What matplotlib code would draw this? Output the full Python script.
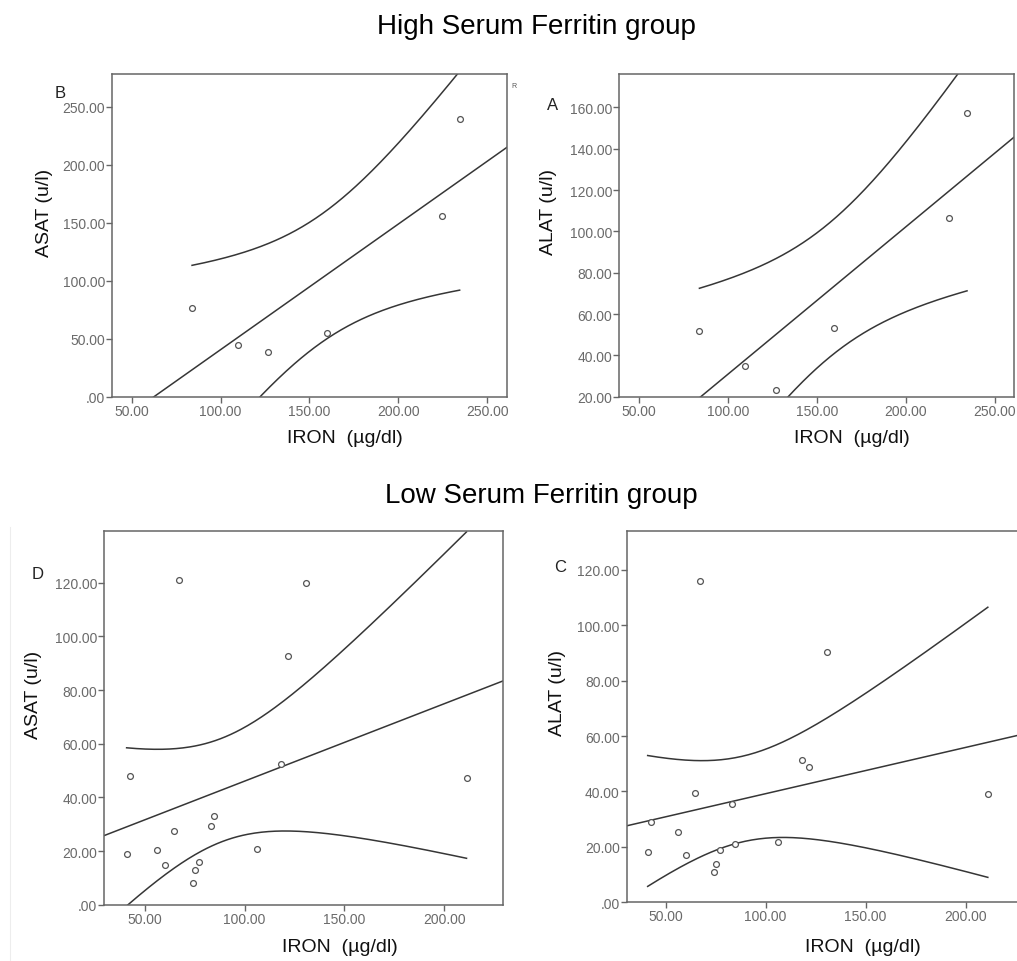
import numpy as np
import matplotlib
matplotlib.use("Agg")
import matplotlib.pyplot as plt
from matplotlib.ticker import FuncFormatter

plt.rcParams['font.family'] = ['Liberation Sans', 'DejaVu Sans']

# High serum ferritin group
iron_high = [84.0, 109.7, 126.8, 159.7, 224.4, 234.4]
asat_high = [76.5, 44.6, 38.8, 55.2, 156.0, 239.0]
alat_high = [51.9, 35.0, 23.2, 53.1, 106.6, 157.3]

# Low serum ferritin group
iron_low = [41.0, 42.7, 56.3, 60.0, 64.8, 67.0, 74.0, 75.0, 77.0, 83.3,
            84.8, 106.4, 118.4, 121.8, 130.7, 211.1]
asat_low = [19.0, 48.0, 20.4, 14.9, 27.5, 121.0, 8.0, 12.9, 16.0, 29.3,
            33.1, 20.8, 52.5, 92.6, 120.0, 47.3]
alat_low = [18.0, 29.0, 25.5, 17.0, 39.3, 115.8, 10.9, 13.9, 19.0, 35.4,
            21.0, 21.9, 51.3, 48.9, 90.2, 39.2]

# two-sided 95% t critical values by degrees of freedom
T_CRIT = {4: 2.776, 14: 2.145}

LINE = '#363636'
SPINE = '#666666'
TICK_TXT = '#6a6a6a'


def spss_fmt(v, pos):
    s = "%.2f" % v
    return s[1:] if s.startswith("0.") else s


def scatter_fit(ax, x, y, xlim, ylim, xticks, yticks):
    """Scatter with linear fit line and 95% CI of the mean."""
    x = np.asarray(x)
    y = np.asarray(y)
    n = len(x)
    slope, icpt = np.polyfit(x, y, 1)
    resid = y - (icpt + slope * x)
    s = np.sqrt(np.sum(resid ** 2) / (n - 2))
    sxx = np.sum((x - x.mean()) ** 2)
    t = T_CRIT[n - 2]

    xf = np.linspace(xlim[0], xlim[1], 200)
    ax.plot(xf, icpt + slope * xf, color=LINE, lw=1.1)

    xc = np.linspace(x.min(), x.max(), 200)
    fit = icpt + slope * xc
    hw = t * s * np.sqrt(1.0 / n + (xc - x.mean()) ** 2 / sxx)
    ax.plot(xc, fit + hw, color=LINE, lw=1.1)
    ax.plot(xc, fit - hw, color=LINE, lw=1.1)

    ax.plot(x, y, 'o', ms=4.2, mfc='white', mec='#555555', mew=0.9)

    ax.set_xlim(xlim)
    ax.set_ylim(ylim)
    ax.set_xticks(xticks)
    ax.set_yticks(yticks)
    ax.xaxis.set_major_formatter(FuncFormatter(spss_fmt))
    ax.yaxis.set_major_formatter(FuncFormatter(spss_fmt))
    ax.tick_params(direction='out', length=4, width=1.0, color=SPINE,
                   labelsize=10, labelcolor=TICK_TXT, pad=1)
    for sp in ax.spines.values():
        sp.set_color(SPINE)
        sp.set_linewidth(1.1)


def labels(ax, letter, lpos, ylab, ypos, xpos):
    ax.text(lpos[0], lpos[1], letter, transform=ax.transAxes, fontsize=12,
            ha='center', va='center', color='#222222')
    ax.text(ypos[0], ypos[1], ylab, transform=ax.transAxes, fontsize=14,
            rotation=90, ha='center', va='center', color='#111111')
    ax.text(xpos[0], xpos[1], "IRON  (\u00b5g/dl)", transform=ax.transAxes,
            fontsize=14, ha='center', va='center', color='#111111')


fig = plt.figure(figsize=(10.17, 9.62), dpi=100)

fig.text(0.5275, 0.9647, "High Serum Ferritin group", fontsize=20,
         ha='center', va='baseline')
fig.text(0.532, 0.4768, "Low Serum Ferritin group", fontsize=20,
         ha='center', va='baseline')

# B: ASAT vs iron, high ferritin
ax_b = fig.add_axes([0.1101, 0.5866, 0.3884, 0.3354])
scatter_fit(ax_b, iron_high, asat_high, (39, 261), (0, 278),
            [50, 100, 150, 200, 250], [0, 50, 100, 150, 200, 250])
labels(ax_b, "B", (-0.132, 0.944), "ASAT (u/l)", (-0.172, 0.574), (0.59, -0.125))
ax_b.text(1.012, 0.96, "R", transform=ax_b.transAxes, fontsize=5, color='#555555')

# A: ALAT vs iron, high ferritin
ax_a = fig.add_axes([0.6090, 0.5866, 0.3884, 0.3354])
scatter_fit(ax_a, iron_high, alat_high, (39, 261), (20, 176.2),
            [50, 100, 150, 200, 250], [20, 40, 60, 80, 100, 120, 140, 160])
labels(ax_a, "A", (-0.168, 0.905), "ALAT (u/l)", (-0.180, 0.574), (0.589, -0.125))

# D: ASAT vs iron, low ferritin
ax_d = fig.add_axes([0.1023, 0.0585, 0.3920, 0.3882])
scatter_fit(ax_d, iron_low, asat_low, (29.7, 229.2), (0, 139.2),
            [50, 100, 150, 200], [0, 20, 40, 60, 80, 100, 120])
labels(ax_d, "D", (-0.167, 0.888), "ASAT (u/l)", (-0.176, 0.564), (0.591, -0.111))

# C: ALAT vs iron, low ferritin (right side runs past the figure edge)
ax_c = fig.add_axes([0.6162, 0.0610, 0.3913, 0.3857])
scatter_fit(ax_c, iron_low, alat_low, (30.5, 229.5), (0, 133.9),
            [50, 100, 150, 200], [0, 20, 40, 60, 80, 100, 120])
labels(ax_c, "C", (-0.168, 0.904), "ALAT (u/l)", (-0.173, 0.567), (0.594, -0.118))

# faint frame of the lower panel block
fig.add_artist(plt.Line2D([10 / 1017, 10 / 1017], [0, 1 - 528 / 962],
                          transform=fig.transFigure, color='#ededed', lw=0.8))

fig.savefig("out.png", dpi=100)
